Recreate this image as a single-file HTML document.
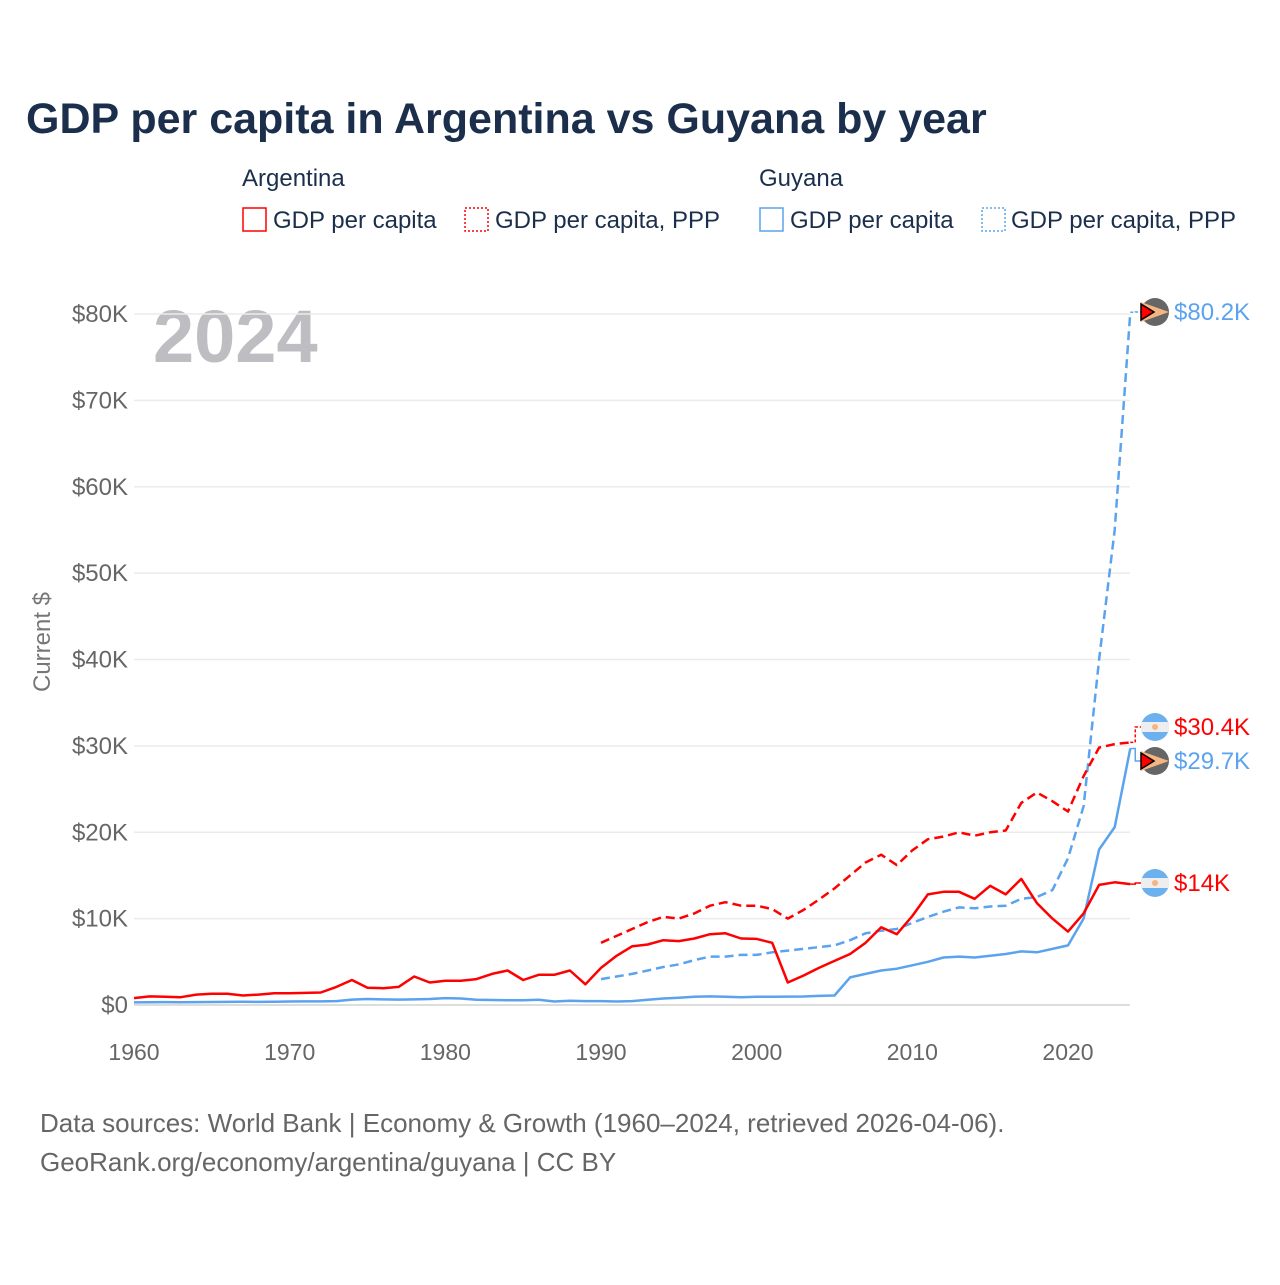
<!DOCTYPE html>
<html><head><meta charset="utf-8"><style>
body{margin:0;background:#fff;width:1280px;height:1280px;overflow:hidden;font-family:"Liberation Sans",sans-serif}
</style></head><body>
<svg width="1280" height="1280" xmlns="http://www.w3.org/2000/svg" font-family="Liberation Sans, sans-serif">
<text x="26" y="133" font-size="43" font-weight="bold" fill="#1b2f4c">GDP per capita in Argentina vs Guyana by year</text>
<g font-size="24" fill="#1b2f4c">
<text x="242" y="186">Argentina</text>
<text x="759" y="186">Guyana</text>
<g><rect x="243" y="208" width="23" height="23" fill="none" stroke="#f00" stroke-width="1.5"/><text x="273" y="228">GDP per capita</text></g>
<g><rect x="465" y="208" width="23" height="23" fill="none" stroke="#f00" stroke-width="1.5" stroke-dasharray="2 2"/><text x="495" y="228">GDP per capita, PPP</text></g>
<g><rect x="760" y="208" width="23" height="23" fill="none" stroke="#5ba3ee" stroke-width="1.5"/><text x="790" y="228">GDP per capita</text></g>
<g><rect x="982" y="208" width="23" height="23" fill="none" stroke="#5ba3ee" stroke-width="1.5" stroke-dasharray="2 2"/><text x="1011" y="228">GDP per capita, PPP</text></g>
</g>
<text x="153" y="362" font-size="74" font-weight="bold" fill="#bdbdc2">2024</text>
<g id="grid"></g><g id="lines"></g><g id="labels"></g>
<text transform="translate(50,642) rotate(-90)" text-anchor="middle" font-size="24" fill="#777">Current $</text>
<g font-size="26" fill="#666">
<text x="40" y="1132">Data sources: World Bank | Economy &amp; Growth (1960–2024, retrieved 2026-04-06).</text>
<text x="40" y="1171">GeoRank.org/economy/argentina/guyana | CC BY</text>
</g>
</svg>
<script>
const yTicks=[0,10000,20000,30000,40000,50000,60000,70000,80000];
const yTickLabels=["$0","$10K","$20K","$30K","$40K","$50K","$60K","$70K","$80K"];
const xTicks=[1960,1970,1980,1990,2000,2010,2020];
const argGdp=[0.8,1.0,0.95,0.9,1.2,1.3,1.3,1.1,1.2,1.35,1.35,1.4,1.45,2.1,2.9,2.0,1.95,2.1,3.3,2.6,2.8,2.8,3.0,3.6,4.0,2.9,3.5,3.5,4.0,2.4,4.3,5.7,6.8,7.0,7.5,7.4,7.7,8.2,8.3,7.7,7.65,7.2,2.6,3.4,4.3,5.1,5.9,7.2,9.0,8.2,10.3,12.8,13.1,13.1,12.3,13.8,12.8,14.6,11.8,10.0,8.5,10.6,13.9,14.2,14.0];
const guyGdp=[0.3,0.32,0.33,0.32,0.33,0.35,0.36,0.37,0.36,0.38,0.4,0.42,0.42,0.45,0.62,0.7,0.65,0.62,0.65,0.7,0.8,0.75,0.6,0.58,0.55,0.55,0.6,0.4,0.5,0.45,0.45,0.4,0.45,0.6,0.75,0.85,0.95,1.0,0.95,0.9,0.95,0.95,0.97,0.98,1.05,1.1,3.2,3.6,4.0,4.2,4.6,5.0,5.5,5.6,5.5,5.7,5.9,6.2,6.1,6.5,6.9,10.0,18.0,20.6,29.7];
const argPpp=[7.2,8.0,8.8,9.6,10.2,10.0,10.6,11.5,11.9,11.5,11.5,11.1,10.0,11.0,12.2,13.5,15.0,16.5,17.4,16.2,17.9,19.2,19.5,20.0,19.6,20.0,20.2,23.4,24.6,23.6,22.4,26.5,29.8,30.2,30.4];
const guyPpp=[3.0,3.3,3.6,4.0,4.4,4.7,5.2,5.6,5.6,5.8,5.8,6.1,6.3,6.5,6.7,6.9,7.5,8.3,8.6,8.8,9.5,10.2,10.8,11.3,11.2,11.4,11.5,12.3,12.5,13.3,17.0,23.0,40.0,55.0,80.2];
const NS='http://www.w3.org/2000/svg';
const x=yr=>134+(yr-1960)*(1068-134)/60;
const y=v=>1005-v*(691/80000);
function mk(t,a,p){const e=document.createElementNS(NS,t);for(const k in a)e.setAttribute(k,a[k]);p.appendChild(e);return e;}
const grid=document.getElementById('grid');
yTicks.forEach((v,i)=>{
 const l=mk('line',{x1:134,x2:1130,y1:y(v),y2:y(v),stroke:v===0?'#ddd':'#ebebeb','stroke-width':v===0?2:1.5},grid);
 
 
 const t=mk('text',{x:128,y:y(v)+8,'text-anchor':'end','font-size':24,fill:'#666'},grid);
 t.textContent=yTickLabels[i];
 
 
});
xTicks.forEach(yr=>{
 const t=mk('text',{x:x(yr),y:1060,'text-anchor':'middle','font-size':23,fill:'#666'},grid);
 t.textContent=yr;
 
 
});
const lines=document.getElementById('lines');
function series(arr,start,color,dash,name){
 const d=arr.map((v,i)=>(i?'L':'M')+x(start+i).toFixed(1)+' '+y(v*1000).toFixed(1)).join(' ');
 const p=mk('path',{d:d,fill:'none',stroke:color,'stroke-width':2.5,'stroke-linejoin':'round'},lines);
 if(dash)p.setAttribute('stroke-dasharray','9 5');
 
 
}
series(guyGdp,1960,'#5ba3ee',false,'line-guyana-gdp');
series(guyPpp,1990,'#5ba3ee',true,'line-guyana-ppp');
series(argGdp,1960,'#f00',false,'line-argentina-gdp');
series(argPpp,1990,'#f00',true,'line-argentina-ppp');
const labels=document.getElementById('labels');
const endLabels=[
 {v:guyPpp[guyPpp.length-1],ly:312,c:'#5ba3ee',txt:'$80.2K',flag:'guy',dash:true,n:'end-label-guyana-ppp'},
 {v:argPpp[argPpp.length-1],ly:727,c:'#f00',txt:'$30.4K',flag:'arg',dash:true,n:'end-label-argentina-ppp'},
 {v:guyGdp[guyGdp.length-1],ly:761,c:'#5ba3ee',txt:'$29.7K',flag:'guy',dash:false,n:'end-label-guyana-gdp'},
 {v:argGdp[argGdp.length-1],ly:883,c:'#f00',txt:'$14K',flag:'arg',dash:false,n:'end-label-argentina-gdp'}];
endLabels.forEach(o=>{
 const x0=x(2024),yy=y(o.v*1000);
 const c=mk('path',{d:`M${x0} ${yy} L${x0+5} ${yy} L${x0+5} ${o.ly} L${x0+11} ${o.ly}`,fill:'none',stroke:o.c,'stroke-width':1.5},labels);
 if(o.dash)c.setAttribute('stroke-dasharray','3 2');
 const g=mk('g',{},labels);
 
 
 const cx=1155,cy=o.ly;
 if(o.flag==='arg'){
  mk('circle',{cx:cx,cy:cy,r:14,fill:'#6cb0ee'},g);
  mk('rect',{x:cx-14,y:cy-5,width:28,height:10,fill:'#eee'},g);
  mk('circle',{cx:cx,cy:cy,r:3,fill:'#f5b482'},g);
 }else{
  mk('circle',{cx:cx,cy:cy,r:14,fill:'#666'},g);
  mk('path',{d:`M${cx-14} ${cy-10} L${cx+14} ${cy} L${cx-14} ${cy+10}Z`,fill:'#f5b482'},g);
  mk('path',{d:`M${cx-14} ${cy-8} L${cx-1} ${cy} L${cx-14} ${cy+8}Z`,fill:'#f00',stroke:'#000','stroke-width':1.5},g);
 }
 const t=mk('text',{x:1174,y:o.ly+8,'font-size':24,fill:o.c},g);
 t.textContent=o.txt;
});
</script>
</body></html>
